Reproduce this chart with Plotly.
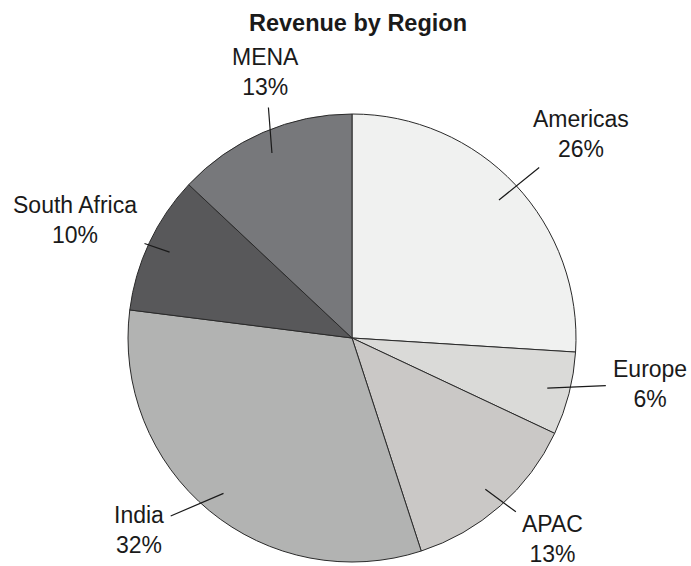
import math
import plotly.graph_objects as go

# ---- data ----
regions = ["Americas", "Europe", "APAC", "India", "South Africa", "MENA"]
shares = [26, 6, 13, 32, 10, 13]
colors = ["#f0f1f0", "#dadad8", "#cac8c6", "#b2b3b2", "#58585a", "#77787b"]
title_text = "Revenue by Region"

# ---- layout geometry (pixels) ----
W, H = 691, 566
CX, CY, R = 352, 338, 224          # pie centre / radius in pixels
INNER = 0.9                         # leader-line start, fraction of radius
RX, RY = 308, 280                   # label ellipse radii
# small label nudges (pixels) to keep labels clear of each other / the title
label_nudge = {
    "Americas": (4, -12),
    "Europe": (0, -24),
    "APAC": (-3, -9),
    "India": (-17, -24),
    "South Africa": (2, 1),
    "MENA": (36, -9),
}
FONT = "Liberation Sans, Arial, Helvetica, sans-serif"

total = sum(shares)
pct = [round(v / total * 100) for v in shares]

fig = go.Figure(
    go.Pie(
        labels=regions,
        values=shares,
        sort=False,
        direction="clockwise",
        rotation=0,
        marker=dict(colors=colors, line=dict(color="#2a2a2a", width=1)),
        textinfo="none",
        hoverinfo="label+percent",
        showlegend=False,
        domain=dict(
            x=[(CX - R) / W, (CX + R) / W],
            y=[1 - (CY + R) / H, 1 - (CY - R) / H],
        ),
    )
)

# labels with leader lines, positioned from each slice's mid-angle
annotations = []
cum = 0.0
for name, v, p in zip(regions, shares, pct):
    mid = (cum + v / 2) / total * 2 * math.pi
    cum += v
    s, c = math.sin(mid), math.cos(mid)
    px = CX + INNER * R * s
    py = CY - INNER * R * c
    dx, dy = label_nudge.get(name, (0, 0))
    tx = CX + RX * s + dx
    ty = CY - RY * c + dy
    annotations.append(
        dict(
            x=px / W,
            y=1 - py / H,
            xref="paper",
            yref="paper",
            ax=tx - px,
            ay=ty - py,
            axref="pixel",
            ayref="pixel",
            text=f"{name}<br>{p}%",
            showarrow=True,
            arrowhead=0,
            arrowwidth=1.2,
            arrowcolor="#1a1a1a",
            startstandoff=6,
            font=dict(family=FONT, size=23, color="#1a1a1a"),
            align="center",
        )
    )

fig.update_layout(
    width=W,
    height=H,
    margin=dict(l=0, r=0, t=0, b=0),
    paper_bgcolor="white",
    plot_bgcolor="white",
    title=dict(
        text=f"<b>{title_text}</b>",
        x=358 / W,
        xanchor="center",
        y=1 - 23 / H,
        yanchor="middle",
        font=dict(family=FONT, size=23.5, color="#1a1a1a"),
    ),
    annotations=annotations,
)

fig.write_html(
    "out.html",
    config={"displayModeBar": False},
    post_script="document.body.style.margin='0';document.body.style.overflow='hidden';",
)
